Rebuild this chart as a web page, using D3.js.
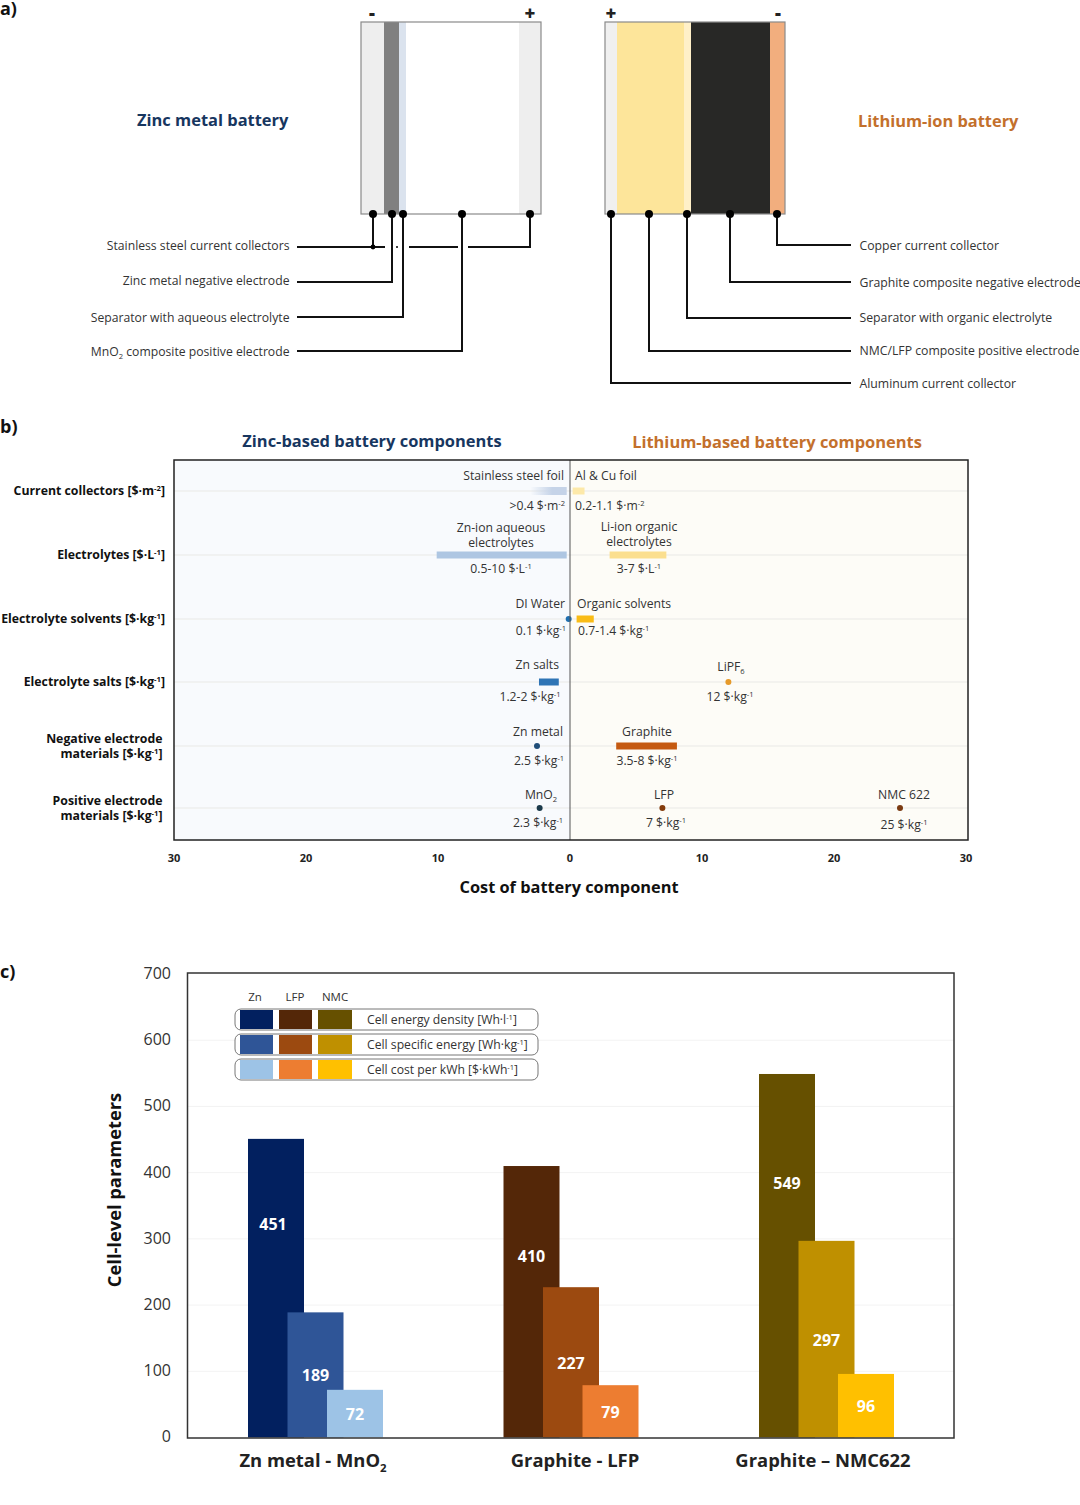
<!DOCTYPE html>
<html><head><meta charset="utf-8">
<script src="https://cdn.jsdelivr.net/npm/d3@7"></script>
<style>html,body{margin:0;padding:0;background:#fff}svg{display:block}text{font-family:"Open Sans",sans-serif}</style>
</head><body><svg id="c" width="1080" height="1505"></svg>
<script>
// ---- Panel a data
const zincLayers=[23,15,7,113,22];
const zincLayerColors=["#eeeeee","#808080","#dbe3ee","#ffffff","#eeeeee"];
const liLayers=[12,67,7,79,15];
const liLayerColors=["#f0f0f0","#fde59a","#fff0c8","#282826","#f2ae7e"];
const zincCallouts=["Stainless steel current collectors","Zinc metal negative electrode","Separator with aqueous electrolyte","MnO_{2} composite positive electrode"];
const liCallouts=["Copper current collector","Graphite composite negative electrode","Separator with organic electrolyte","NMC/LFP composite positive electrode","Aluminum current collector"];
// ---- Panel b data
const costRows=["Current collectors [$·m^{-2}]","Electrolytes [$·L^{-1}]","Electrolyte solvents [$·kg^{-1}]","Electrolyte salts [$·kg^{-1}]","Negative electrode|materials [$·kg^{-1}]","Positive electrode|materials [$·kg^{-1}]"];
const costTicks=[-30,-20,-10,0,10,20,30];
const zincRangeRows=[1,3];
const zincRangeLow=[0.25,0.85];
const zincRangeHigh=[10.1,2.35];
const zincRangeColors=["#aec6e2","#2e74b5"];
const liRangeRows=[0,1,2,4];
const liRangeLow=[0.2,3,0.5,3.5];
const liRangeHigh=[1.1,7.3,1.8,8.1];
const liRangeColors=["#fde9a9","#fbdf8f","#f9bc16","#c55a11"];
const pointRows=[2,4,5,3,5,5];
const pointValues=[-0.1,-2.5,-2.3,12,7,25];
const pointColors=["#1f6fb0","#1f4e79","#1b3a4b","#e69a2a","#843c0c","#7a3a12"];
// ---- Panel c data
const cellGroups=["Zn metal - MnO_{2}","Graphite - LFP","Graphite – NMC622"];
const cellSeries=["Cell energy density [Wh·l^{-1}]","Cell specific energy [Wh·kg^{-1}]","Cell cost per kWh [$·kWh^{-1}]"];
const legendHeads=["Zn","LFP","NMC"];
const znValues=[451,189,72];
const lfpValues=[410,227,79];
const nmcValues=[549,297,96];
const znColors=["#02205f","#2f5597","#9dc3e6"];
const lfpColors=["#542708","#9c4a10","#ed7d31"];
const nmcColors=["#665000","#bf9000","#ffc000"];
const yTicks=[0,100,200,300,400,500,600,700];

const svg=d3.select("#c");
function rich(sel,str){ // ^{x} superscript, _{x} subscript
  const fs=parseFloat(sel.attr("font-size"));
  const parts=str.split(/(\^\{[^}]*\}|_\{[^}]*\})/).filter(d=>d!=="");
  let shift=0;
  parts.forEach(p=>{
    const m=p.match(/^([\^_])\{(.*)\}$/);
    const ts=sel.append("tspan");
    if(m){const t=m[1]==="^"?-0.35*fs:0.25*fs;ts.attr("dy",t-shift).attr("font-size",fs*0.62).text(m[2]);shift=t;}
    else{ts.attr("dy",-shift).text(p);shift=0;}
  });
  return sel;
}
function txt(g,x,y,s,o={}){
  const t=g.append("text").attr("x",x).attr("y",y).attr("font-size",o.size||12.5)
    .attr("font-weight",o.weight||400).attr("fill",o.fill||"#333").attr("text-anchor",o.anchor||"start");
  if(o.rotate)t.attr("transform",`rotate(${o.rotate} ${x} ${y})`);
  return rich(t,s);
}
["a)","b)","c)"].forEach((s,i)=>txt(svg,0,[15,433,978][i],s,{size:18,weight:700,fill:"#111"}));

// ================ Panel a
const a=svg.append("g");
function cell(x0,layers,colors){
  const total=d3.sum(layers);
  const sc=d3.scaleLinear().domain([0,total]).range([x0,x0+180]);
  let c=0;
  const st=layers.map(v=>{const r=[c,c+v];c+=v;return r;});
  a.selectAll(null).data(st).join("rect").attr("x",d=>sc(d[0])).attr("width",d=>sc(d[1])-sc(d[0]))
    .attr("y",22).attr("height",192).attr("fill",(d,i)=>colors[i]);
  a.append("rect").attr("x",x0).attr("y",22).attr("width",180).attr("height",192).attr("fill","none").attr("stroke","#8a8a8a").attr("stroke-width",1.2);
}
cell(361,zincLayers,zincLayerColors);
cell(605,liLayers,liLayerColors);
txt(a,372,20,"-",{size:18.5,weight:800,anchor:"middle",fill:"#222"});
txt(a,530,20,"+",{size:18.5,weight:800,anchor:"middle",fill:"#222"});
txt(a,611,20,"+",{size:18.5,weight:800,anchor:"middle",fill:"#222"});
txt(a,778,20,"-",{size:18.5,weight:800,anchor:"middle",fill:"#222"});
txt(a,137,126,"Zinc metal battery",{size:16.45,weight:700,fill:"#17365f"});
txt(a,858,127,"Lithium-ion battery",{size:16.4,weight:700,fill:"#c3702c"});
const leaders=[
 "M373,214V247","M297,247H385","M409,247H458","M468,247H530V214",
 "M392,214V282H297","M403,214V317H297","M462,214V351H297",
 "M611,214V383H851","M649,214V351H851","M687,214V318H851","M730,214V282H851","M777,214V245H851"];
a.selectAll(null).data(leaders).join("path").attr("d",d=>d).attr("fill","none").attr("stroke","#111").attr("stroke-width",2);
[373,392,403,462,530,611,649,687,730,777].forEach(x=>a.append("circle").attr("cx",x).attr("cy",214).attr("r",4).attr("fill","#000"));
a.append("circle").attr("cx",373).attr("cy",247).attr("r",2.4).attr("fill","#000");
a.append("circle").attr("cx",397).attr("cy",247).attr("r",1).attr("fill","#000");
zincCallouts.forEach((s,i)=>txt(a,289.5,[249.5,285,322,356][i],s,{anchor:"end",size:12.2}));
liCallouts.forEach((s,i)=>txt(a,859.5,[250,286.5,322,355,387.5][i],s,{size:12.25}));

// ================ Panel b
const b=svg.append("g");
const bx=d3.scaleLinear().domain([-30,30]).range([174,966]);
const by=d3.scaleOrdinal().domain(d3.range(6)).range([491,555,619,682,746,808]);
const defs=svg.append("defs");
const lg=defs.append("linearGradient").attr("id","foil");
lg.append("stop").attr("offset","0").attr("stop-color","#c5d3e8").attr("stop-opacity",0);
lg.append("stop").attr("offset","0.6").attr("stop-color","#c5d3e8");
b.append("rect").attr("x",174).attr("y",460).attr("width",bx(0)-174).attr("height",380).attr("fill","#f8fafd");
b.append("rect").attr("x",bx(0)).attr("y",460).attr("width",968-bx(0)).attr("height",380).attr("fill","#fdfcf7");
b.selectAll(null).data(d3.range(6)).join("line").attr("x1",174).attr("x2",968).attr("y1",d=>by(d)).attr("y2",d=>by(d)).attr("stroke","#e9e9e6");
b.append("rect").attr("x",bx(-3)).attr("width",bx(-0.25)-bx(-3)).attr("y",by(0)-4).attr("height",8).attr("fill","url(#foil)");
const barH=7;
b.selectAll(null).data(zincRangeRows).join("rect").attr("x",(d,i)=>bx(-zincRangeHigh[i])).attr("width",(d,i)=>bx(-zincRangeLow[i])-bx(-zincRangeHigh[i]))
  .attr("y",d=>by(d)-barH/2).attr("height",barH).attr("fill",(d,i)=>zincRangeColors[i]);
b.selectAll(null).data(liRangeRows).join("rect").attr("x",(d,i)=>bx(liRangeLow[i])).attr("width",(d,i)=>bx(liRangeHigh[i])-bx(liRangeLow[i]))
  .attr("y",d=>by(d)-barH/2).attr("height",barH).attr("fill",(d,i)=>liRangeColors[i]);
b.selectAll(null).data(pointRows).join("circle").attr("cx",(d,i)=>bx(pointValues[i])).attr("cy",d=>by(d)).attr("r",3).attr("fill",(d,i)=>pointColors[i]);
b.append("line").attr("x1",bx(0)).attr("x2",bx(0)).attr("y1",460).attr("y2",840).attr("stroke","#555").attr("stroke-width",1);
b.append("rect").attr("x",174).attr("y",460).attr("width",794).attr("height",380).attr("fill","none").attr("stroke","#222").attr("stroke-width",1.5);
const bAxis=b.append("g").attr("transform","translate(-0.5,840)").call(d3.axisBottom(bx).tickValues(costTicks).tickSize(0).tickPadding(14).tickFormat(d=>Math.abs(d)));
bAxis.select(".domain").remove();
bAxis.selectAll("text").attr("font-size",11).attr("font-weight",700).attr("fill","#222").style("font-family",'"Open Sans",sans-serif');
txt(b,569,893,"Cost of battery component",{size:16.35,weight:700,anchor:"middle",fill:"#111"});
txt(b,372,447,"Zinc-based battery components",{size:16.45,weight:700,anchor:"middle",fill:"#17365f"});
txt(b,777,448,"Lithium-based battery components",{size:16.45,weight:700,anchor:"middle",fill:"#c3702c"});
costRows.forEach((s,i)=>{
  const lines=s.split("|"), y=by(i);
  if(lines.length===1) txt(b,165,y+4,s,{size:12.3,weight:700,anchor:"end",fill:"#111"});
  else lines.forEach((l,j)=>txt(b,162.5,y-3+j*15,l,{size:12.3,weight:700,anchor:"end",fill:"#111"}));
});
const costLabels=[
 ["Stainless steel foil",564,480,"end"],[">0.4 $·m^{-2}",565,510,"end"],
 ["Zn-ion aqueous",501,532,"middle"],["electrolytes",501,547,"middle"],["0.5-10 $·L^{-1}",501,573,"middle"],
 ["DI Water",565,608,"end"],["0.1 $·kg^{-1}",566,635,"end"],
 ["Zn salts",559,669,"end"],["1.2-2 $·kg^{-1}",530,701,"middle"],
 ["Zn metal",538,736,"middle"],["2.5 $·kg^{-1}",539,765,"middle"],
 ["MnO_{2}",541,799,"middle"],["2.3 $·kg^{-1}",538,827,"middle"],
 ["Al & Cu foil",575,480,"start"],["0.2-1.1 $·m^{-2}",575,510,"start"],
 ["Li-ion organic",639,531,"middle"],["electrolytes",639,546,"middle"],["3-7 $·L^{-1}",639,573,"middle"],
 ["Organic solvents",577,608,"start"],["0.7-1.4 $·kg^{-1}",578,635,"start"],
 ["LiPF_{6}",731,671,"middle"],["12 $·kg^{-1}",730,701,"middle"],
 ["Graphite",647,736,"middle"],["3.5-8 $·kg^{-1}",647,765,"middle"],
 ["LFP",664,799,"middle"],["7 $·kg^{-1}",666,827,"middle"],
 ["NMC 622",904,799,"middle"],["25 $·kg^{-1}",904,829,"middle"]];
costLabels.forEach(l=>txt(b,l[1],l[2],l[0],{size:12.2,anchor:l[3]}));

// ================ Panel c
const c=svg.append("g");
const cy=d3.scaleLinear().domain([0,700]).range([1437.5,974]);
const cx=d3.scaleBand().domain(cellGroups).range([187.75,954.25]);
const sx=d3.scaleLinear().domain([0,2]).range([-67.5,11.5]);
const allValues=[znValues,lfpValues,nmcValues], allColors=[znColors,lfpColors,nmcColors];
const barW=56;
c.selectAll(null).data(yTicks.slice(1,-1)).join("line").attr("x1",188).attr("x2",954).attr("y1",d=>cy(d)).attr("y2",d=>cy(d)).attr("stroke","#f3f3f3");
const firstLabelFrac=[0.288,0.333,0.3], firstLabelNudge=[-3,0,0];
cellGroups.forEach((g,gi)=>{
  const vals=allValues[gi];
  const frac=i=>i===0?firstLabelFrac[gi]:0.5;
  c.selectAll(null).data(vals).join("rect").attr("x",(d,i)=>cx(g)+cx.bandwidth()/2+sx(i)).attr("width",barW)
    .attr("y",d=>cy(d)).attr("height",d=>cy(0)-cy(d)).attr("fill",(d,i)=>allColors[gi][i]);
  c.selectAll(null).data(vals).join("text").attr("x",(d,i)=>cx(g)+cx.bandwidth()/2+sx(i)+barW/2+(i===0?firstLabelNudge[gi]:0))
    .attr("y",(d,i)=>cy(d)+(cy(0)-cy(d))*frac(i)+(i===0?5.5:6.5)).attr("text-anchor","middle").attr("font-size",16).attr("font-weight",700).attr("fill","#fff").text(d=>d);
});
c.append("rect").attr("x",187.5).attr("y",973).attr("width",766.5).attr("height",465).attr("fill","none").attr("stroke","#333").attr("stroke-width",1.5);
const yAxis=c.append("g").attr("transform","translate(187,-0.7)").call(d3.axisLeft(cy).tickValues(yTicks).tickSize(0).tickPadding(16));
yAxis.select(".domain").remove();
yAxis.selectAll("text").attr("font-size",16).attr("fill","#333").style("font-family",'"Open Sans",sans-serif');
txt(c,121,1190,"Cell-level parameters",{size:18.3,weight:700,anchor:"middle",fill:"#111",rotate:-90});
const groupNudge=[-2.5,4,-3.5];
cellGroups.forEach((g,i)=>txt(c,cx(g)+cx.bandwidth()/2+groupNudge[i],1467,g,{size:18.4,weight:700,anchor:"middle",fill:"#222"}));
// legend
const swX=[240,279,318], swW=[33,33,34];
legendHeads.forEach((h,i)=>txt(c,[255,295,335][i],1001,h,{size:11.5,anchor:"middle"}));
cellSeries.forEach((s,i)=>{
  const y=[1009,1034,1059][i];
  c.append("rect").attr("x",235).attr("y",y).attr("width",303).attr("height",21).attr("rx",6).attr("fill","#fff").attr("stroke","#777").attr("stroke-width",1);
  allColors.forEach((col,j)=>c.append("rect").attr("x",swX[j]).attr("y",y+1).attr("width",swW[j]).attr("height",19).attr("fill",col[i]));
  txt(c,367,y+15,s,{size:12.2});
});
</script></body></html>
